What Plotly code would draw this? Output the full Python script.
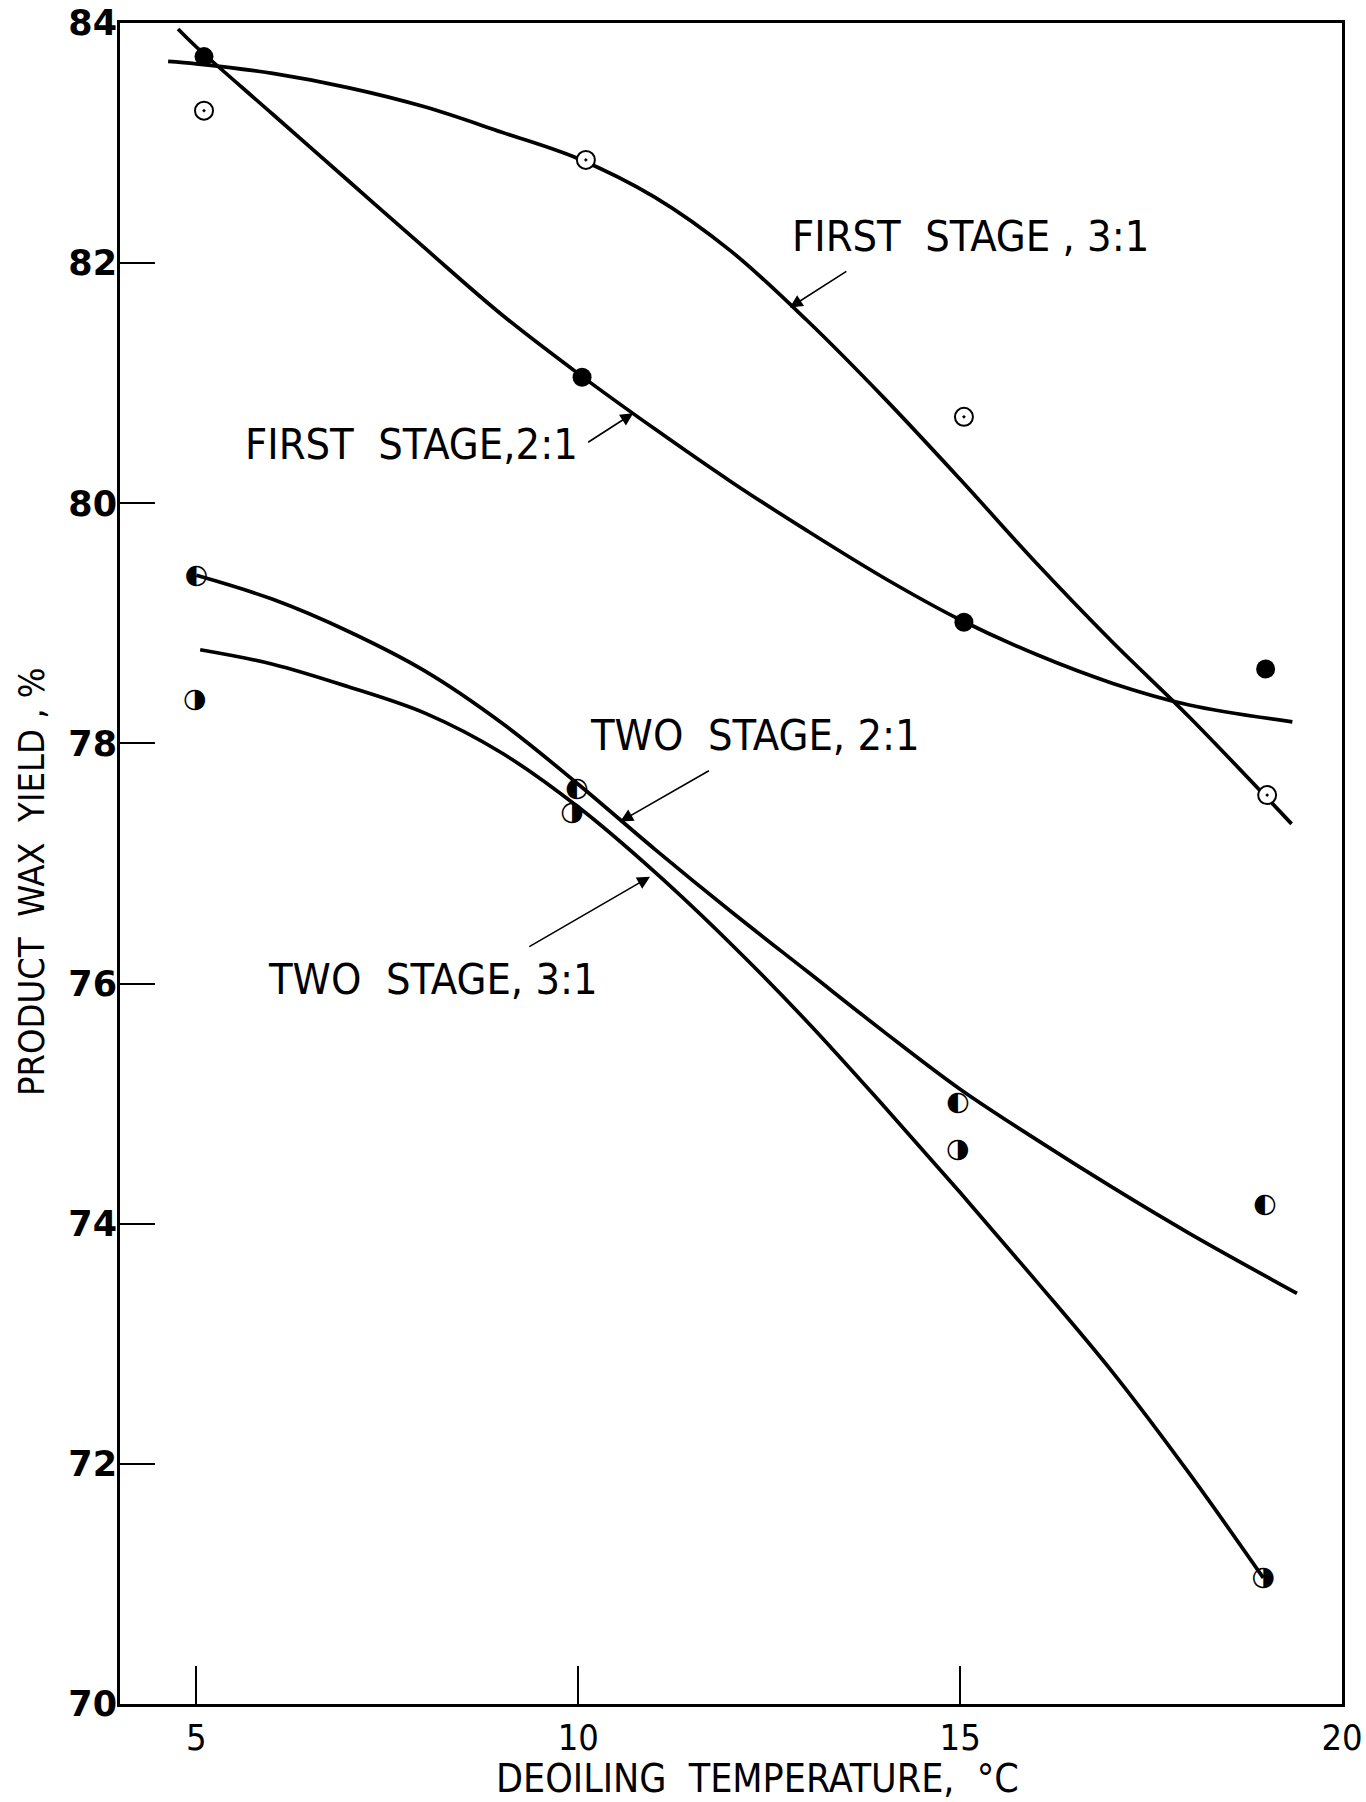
import plotly.graph_objects as go

# ---- measured points ----
temp_pts = [5.1, 10.05, 15.05, 19.0]
fs21_pts = [83.72, 81.05, 79.01, 78.62]          # first stage 2:1 (filled)
temp_pts_b = [5.1, 10.1, 15.05, 19.02]
fs31_pts = [83.27, 82.86, 80.72, 77.57]          # first stage 3:1 (open dot)
temp_pts_c = [5.0, 9.98, 14.97, 18.99]
ts21_pts = [79.39, 77.62, 75.0, 74.15]           # two stage 2:1
temp_pts_d = [4.98, 9.92, 14.97, 18.97]
ts31_pts = [78.36, 77.42, 74.61, 71.05]          # two stage 3:1

# ---- hand-drawn curves ----
fs21_cx = [4.76, 5, 6, 7, 8, 9, 10, 11, 12, 13, 14, 15, 16, 17, 18, 19.35]
fs21_cy = [83.95, 83.80, 83.24, 82.68, 82.12, 81.57, 81.08, 80.62, 80.18, 79.77, 79.38, 79.03, 78.74, 78.50, 78.32, 78.18]
fs31_cx = [4.63, 5, 6, 7, 8, 9, 10, 11, 12, 13, 14, 15, 16, 17, 18, 19.34]
fs31_cy = [83.68, 83.66, 83.58, 83.46, 83.30, 83.09, 82.87, 82.55, 82.10, 81.52, 80.88, 80.20, 79.50, 78.84, 78.22, 77.33]
ts21_cx = [5, 6, 7, 8, 9, 10, 11, 12, 13, 14, 15, 16, 17, 18, 19.41]
ts21_cy = [79.40, 79.20, 78.93, 78.60, 78.17, 77.66, 77.12, 76.60, 76.10, 75.60, 75.12, 74.70, 74.30, 73.92, 73.42]
ts31_cx = [5.05, 6, 7, 8, 9, 10, 11, 12, 13, 14, 15, 16, 17, 18, 18.97]
ts31_cy = [78.78, 78.66, 78.47, 78.25, 77.92, 77.47, 76.93, 76.33, 75.68, 74.98, 74.26, 73.52, 72.76, 71.92, 71.05]

x_ticks = [5, 10, 15, 20]
y_ticks = [70, 72, 74, 76, 78, 80, 82, 84]

labels = ["FIRST  STAGE , 3:1", "FIRST  STAGE,2:1", "TWO  STAGE, 2:1", "TWO  STAGE, 3:1"]
label_x = [15.13, 7.82, 12.31, 8.1]
label_y = [82.23, 80.49, 78.07, 76.04]
arrow_head_x = [12.77, 10.72, 10.55, 10.94]
arrow_head_y = [81.63, 80.75, 77.35, 76.89]
arrow_tail_x = [13.53, 10.11, 11.73, 9.34]
arrow_tail_y = [81.94, 80.50, 77.78, 76.30]

x_title = "DEOILING  TEMPERATURE,  °C"
y_title = "PRODUCT  WAX  YIELD , %"

LETTER = "Liberation Sans Narrow, DejaVu Sans Condensed, Liberation Sans, sans-serif"
line = dict(color="black", width=3.7, shape="spline", smoothing=1.0)

fig = go.Figure()
for cx, cy in [(fs21_cx, fs21_cy), (fs31_cx, fs31_cy), (ts21_cx, ts21_cy), (ts31_cx, ts31_cy)]:
    fig.add_trace(go.Scatter(x=cx, y=cy, mode="lines", line=line, hoverinfo="skip"))

fig.add_trace(go.Scatter(x=temp_pts, y=fs21_pts, mode="markers",
                         marker=dict(symbol="circle", size=19, color="black")))
fig.add_trace(go.Scatter(x=temp_pts_b, y=fs31_pts, mode="markers",
                         marker=dict(symbol="circle-dot", size=18, color="white",
                                     line=dict(color="black", width=2))))
fig.add_trace(go.Scatter(x=temp_pts_c, y=ts21_pts, mode="text", text=["◐"] * 4,
                         textposition="middle center",
                         textfont=dict(family="DejaVu Sans", size=27, color="black")))
fig.add_trace(go.Scatter(x=temp_pts_d, y=ts31_pts, mode="text", text=["◑"] * 4,
                         textposition="middle center",
                         textfont=dict(family="DejaVu Sans", size=27, color="black")))

for t, lx, ly in zip(labels, label_x, label_y):
    fig.add_annotation(x=lx, y=ly, text=t, showarrow=False,
                       font=dict(family=LETTER, size=43, color="black"))
for hx, hy, tx, ty in zip(arrow_head_x, arrow_head_y, arrow_tail_x, arrow_tail_y):
    fig.add_annotation(x=hx, y=hy, ax=tx, ay=ty, axref="x", ayref="y", xref="x", yref="y",
                       text="", showarrow=True, arrowhead=2, arrowsize=1.6,
                       arrowwidth=1.6, arrowcolor="black")

fig.add_annotation(xref="paper", yref="paper", x=0.522, y=0, yshift=-74,
                   xanchor="center", yanchor="middle", showarrow=False, text=x_title,
                   font=dict(family=LETTER, size=39, color="black"))
fig.add_annotation(xref="paper", yref="paper", x=0, y=0.489, xshift=-88,
                   xanchor="center", yanchor="middle", showarrow=False, text=y_title,
                   textangle=-90, font=dict(family=LETTER, size=36, color="black"))

fig.update_layout(
    width=1366, height=1802,
    margin=dict(l=120, r=24, t=23, b=98),
    paper_bgcolor="white", plot_bgcolor="white",
    showlegend=False,
)
fig.update_xaxes(range=[4, 20], tickvals=x_ticks, ticktext=[str(v) for v in x_ticks],
                 ticks="inside", ticklen=38, tickwidth=1.5, tickcolor="black",
                 showline=True, linecolor="black", linewidth=3, mirror=True,
                 showgrid=False, zeroline=False, automargin=False,
                 tickfont=dict(family=LETTER, size=36, color="black"))
fig.update_yaxes(range=[70, 84], tickvals=y_ticks, ticktext=[str(v) for v in y_ticks],
                 ticks="inside", ticklen=35, tickwidth=1.5, tickcolor="black",
                 showline=True, linecolor="black", linewidth=3, mirror=True,
                 showgrid=False, zeroline=False, automargin=False, ticklabelstandoff=-7,
                 tickfont=dict(family="DejaVu Sans", size=35, color="black", weight="bold"))

fig.write_html("out.html", config={"displayModeBar": False},
               post_script="document.body.style.margin='0';")
